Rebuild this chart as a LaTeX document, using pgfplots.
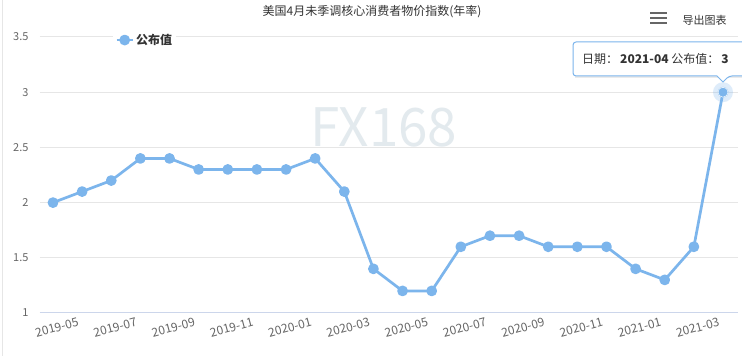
\documentclass[border=0pt]{standalone}
\usepackage{fontspec}
\setmainfont{Noto Sans CJK SC}
\usepackage{pgfplots}
\pgfplotsset{compat=1.18}
\definecolor{series}{HTML}{7CB5EC}
\definecolor{gridc}{HTML}{E6E6E6}
\definecolor{axisline}{HTML}{CCD6EB}
\definecolor{ticktext}{HTML}{666666}
\definecolor{titlec}{HTML}{333333}
\definecolor{wm}{HTML}{E3EAEE}
\begin{document}
\begin{tikzpicture}[x=1pt,y=1pt]
\path[use as bounding box] (0,0) rectangle (742,356);
\begin{scope}
\clip (0,0) rectangle (742,356);
\fill[white] (0,0) rectangle (742,356);
\draw[gridc, line width=1pt] (2,0) -- (2,356);
\node[text=wm, font=\fontsize{53}{53}\selectfont] at (384,229) {FX168};
\begin{axis}[
  at={(40pt,43pt)}, anchor=south west,
  width=698pt, height=276pt, scale only axis,
  xmin=-0.446, xmax=23.515, ymin=1, ymax=3.5,
  ytick={1,1.5,2,2.5,3,3.5},
  yticklabels={1,1.5,2,2.5,3,3.5},
  xtick={0,2,4,6,8,10,12,14,16,18,20,22},
  xticklabels={2019-05,2019-07,2019-09,2019-11,2020-01,2020-03,2020-05,2020-07,2020-09,2020-11,2021-01,2021-03},
  ymajorgrids, grid style={gridc, line width=1pt},
  axis x line*=bottom, axis y line*=left,
  x axis line style={axisline, line width=1pt, -},
  y axis line style={draw=none},
  major tick length=0pt,
  tick label style={text=ticktext, font=\fontsize{11}{11}\selectfont},
  yticklabel style={anchor=east, xshift=-8pt},
  xticklabel style={font=\fontsize{12}{12}\selectfont, rotate=15, anchor=north, yshift=-7pt},
  legend style={at={(0.15,0.989)}, anchor=center, draw=none, fill=white,
    font=\fontsize{12}{12}\selectfont\bfseries, text=titlec, inner sep=2pt},
  legend image code/.code={\draw[#1, mark repeat=2, mark phase=2] plot coordinates {(0pt,0pt)(8pt,0pt)(16pt,0pt)};},
]
\addplot[series, line width=2.7pt, line join=round, mark=*, mark size=4pt, mark options={solid, fill=series, draw=none}] coordinates {
(0,2.0)(1,2.1)(2,2.2)(3,2.4)(4,2.4)(5,2.3)(6,2.3)(7,2.3)(8,2.3)(9,2.4)(10,2.1)(11,1.4)
(12,1.2)(13,1.2)(14,1.6)(15,1.7)(16,1.7)(17,1.6)(18,1.6)(19,1.6)(20,1.4)(21,1.3)(22,1.6)(23,3.0)};
\addlegendentry{公布值}
\addplot[series, only marks, mark=*, mark size=10pt, mark options={fill=series, draw opacity=0, fill opacity=0.25}, forget plot] coordinates {(23,3.0)};
\addplot[series, only marks, mark=*, mark size=5pt, mark options={fill=series, draw=white, line width=0.5pt}, forget plot] coordinates {(23,3.0)};
\end{axis}
\node[text=titlec, font=\fontsize{12}{12}\selectfont] at (372,344) {美国4月未季调核心消费者物价指数(年率)};
\draw[ticktext, line width=2.5pt] (650,343) -- (667,343) (650,338) -- (667,338) (650,333) -- (667,333);
\node[text=titlec, font=\fontsize{11}{11}\selectfont, anchor=west] at (679,336) {导出图表};
% tooltip
\fill[black, opacity=0.08] (575,278) rectangle (752,312);
\draw[series, line width=1pt, fill=white, rounded corners=3pt]
  (573,314) -- (752,314) -- (752,280) -- (729,280) [sharp corners]-- (723,274) -- (717,280) [rounded corners=3pt]-- (573,280) -- cycle;
\node[anchor=west, text=titlec, font=\fontsize{12}{12}\selectfont, inner sep=0pt] at (582,297) {日期：\,\textbf{2021-04} 公布值：\,\textbf{3}};
\end{scope}
\end{tikzpicture}
\end{document}
